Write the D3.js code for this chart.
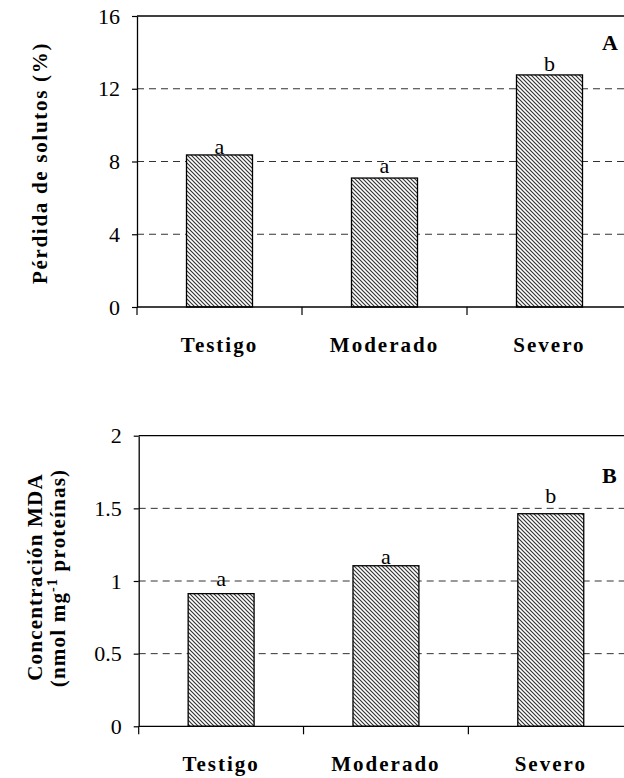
<!DOCTYPE html>
<html>
<head>
<meta charset="utf-8">
<script src="https://cdn.jsdelivr.net/npm/d3@7"></script>
<style>
  body { margin: 0; background: #fff; }
  svg { display: block; }
  text { font-family: "Liberation Serif", "Times New Roman", serif; fill: #000; }
</style>
</head>
<body>
<svg id="chart" width="624" height="778"></svg>
<script>
// data
var categories = ["Testigo", "Moderado", "Severo"];
var solutos = [8.36, 7.09, 12.76];            // Pérdida de solutos (%)
var solutosLetters = ["a", "a", "b"];
var solutosLetterY = [8.41, 7.38, 12.96];     // where the letters sit, data units
var solutosTicks = [0, 4, 8, 12, 16];

var mda = [0.913, 1.105, 1.463];              // Concentración MDA
var mdaLetters = ["a", "a", "b"];
var mdaLetterY = [0.968, 1.117, 1.535];
var mdaTicks = [0, 0.5, 1, 1.5, 2];

var serif = "'Liberation Serif', 'Times New Roman', serif";
var svg = d3.select("#chart");

// hatch fill like the excel bars
var defs = svg.append("defs");
var pat = defs.append("pattern")
  .attr("id", "hatch")
  .attr("patternUnits", "userSpaceOnUse")
  .attr("width", 4)
  .attr("height", 4);
pat.append("rect").attr("width", 4).attr("height", 4).attr("fill", "#fff");
pat.append("path")
  .attr("d", "M0,0 L4,4 M-1,3 L1,5 M3,-1 L5,1")
  .attr("stroke", "#333")
  .attr("stroke-width", 1.15);

function drawPanel(opts){
  var g = svg.append("g");
  var x = d3.scaleBand().domain(categories).range([opts.left, opts.right]).padding(0);
  var y = d3.scaleLinear().domain([0, opts.ticks[opts.ticks.length - 1]]).range([opts.bottom, opts.top]);

  // dashed gridlines
  g.selectAll(".grid")
    .data(opts.ticks.slice(1, -1))
    .enter().append("line")
    .attr("x1", opts.left).attr("x2", opts.right)
    .attr("y1", function(d){ return y(d); })
    .attr("y2", function(d){ return y(d); })
    .attr("stroke", "#333")
    .attr("stroke-width", 1)
    .attr("stroke-dasharray", "7,5");

  // top border of plot area
  g.append("line")
    .attr("x1", opts.left).attr("x2", opts.right)
    .attr("y1", opts.top).attr("y2", opts.top)
    .attr("stroke", "#000").attr("stroke-width", 1.3);

  // bars
  var bw = x.bandwidth() * 0.4;
  g.selectAll(".bar")
    .data(opts.values)
    .enter().append("rect")
    .attr("x", function(d, i){ return x(categories[i]) + (x.bandwidth() - bw) / 2; })
    .attr("y", function(d){ return y(d); })
    .attr("width", bw)
    .attr("height", function(d){ return y(0) - y(d); })
    .attr("fill", "url(#hatch)")
    .attr("stroke", "#000")
    .attr("stroke-width", 1.3);

  // letters above bars
  g.selectAll(".letter")
    .data(opts.letters)
    .enter().append("text")
    .attr("x", function(d, i){ return x(categories[i]) + x.bandwidth() / 2; })
    .attr("y", function(d, i){ return y(opts.letterY[i]); })
    .attr("text-anchor", "middle")
    .style("font-family", serif)
    .style("font-size", "22px")
    .text(function(d){ return d; });

  // y axis
  var yAxis = d3.axisLeft(y)
    .tickValues(opts.ticks)
    .tickSize(5)
    .tickSizeOuter(0)
    .tickPadding(12)
    .tickFormat(function(d){ return String(d); });
  var ya = g.append("g")
    .attr("transform", "translate(" + opts.left + ",0)")
    .call(yAxis);
  ya.select(".domain").attr("stroke", "#000").attr("stroke-width", 1.3);
  ya.selectAll(".tick line").attr("stroke", "#000").attr("stroke-width", 1.2);
  ya.selectAll(".tick text")
    .style("font-family", serif)
    .style("font-size", "22px")
    .attr("fill", "#000");

  // x axis line and category separators
  g.append("line")
    .attr("x1", opts.left).attr("x2", opts.right)
    .attr("y1", opts.bottom).attr("y2", opts.bottom)
    .attr("stroke", "#000").attr("stroke-width", 1.3);
  var edges = categories.map(function(c){ return x(c); }).concat([opts.right]);
  g.selectAll(".xtick")
    .data(edges)
    .enter().append("line")
    .attr("x1", function(d){ return d; }).attr("x2", function(d){ return d; })
    .attr("y1", opts.bottom).attr("y2", opts.bottom + 8)
    .attr("stroke", "#000").attr("stroke-width", 1.2);

  g.selectAll(".xlabel")
    .data(categories)
    .enter().append("text")
    .attr("x", function(d){ return x(d) + x.bandwidth() / 2; })
    .attr("y", opts.bottom + 44.5)
    .attr("text-anchor", "middle")
    .style("font-family", serif)
    .style("font-size", "21px")
    .style("font-weight", "bold")
    .style("letter-spacing", "2px")
    .text(function(d){ return d; });

  // panel letter
  g.append("text")
    .attr("x", 602)
    .attr("y", opts.top + opts.panelDy)
    .style("font-family", serif)
    .style("font-size", "22px")
    .style("font-weight", "bold")
    .text(opts.panel);

  return g;
}

var gA = drawPanel({
  left: 137, right: 632, top: 16, bottom: 307,
  values: solutos, letters: solutosLetters, letterY: solutosLetterY,
  ticks: solutosTicks, panel: "A", panelDy: 34
});
gA.append("text")
  .attr("transform", "translate(47,163) rotate(-90)")
  .attr("text-anchor", "middle")
  .style("font-family", serif)
  .style("font-size", "21px")
  .style("font-weight", "bold")
  .style("letter-spacing", "1.7px")
  .text("Pérdida de solutos (%)");

var gB = drawPanel({
  left: 138.7, right: 633.2, top: 435.7, bottom: 726.3,
  values: mda, letters: mdaLetters, letterY: mdaLetterY,
  ticks: mdaTicks, panel: "B", panelDy: 47.5
});
gB.append("text")
  .attr("transform", "translate(42,577) rotate(-90)")
  .attr("text-anchor", "middle")
  .style("font-family", serif)
  .style("font-size", "21px")
  .style("font-weight", "bold")
  .style("letter-spacing", "1.2px")
  .text("Concentración MDA");
var t2 = gB.append("text")
  .attr("transform", "translate(65,578) rotate(-90)")
  .attr("text-anchor", "middle")
  .style("font-family", serif)
  .style("font-size", "21px")
  .style("font-weight", "bold")
  .style("letter-spacing", "1.2px");
t2.append("tspan").text("(nmol mg");
t2.append("tspan").attr("dy", -8).style("font-size", "14px").text("-1");
t2.append("tspan").attr("dy", 8).text(" proteínas)");
</script>
</body>
</html>
